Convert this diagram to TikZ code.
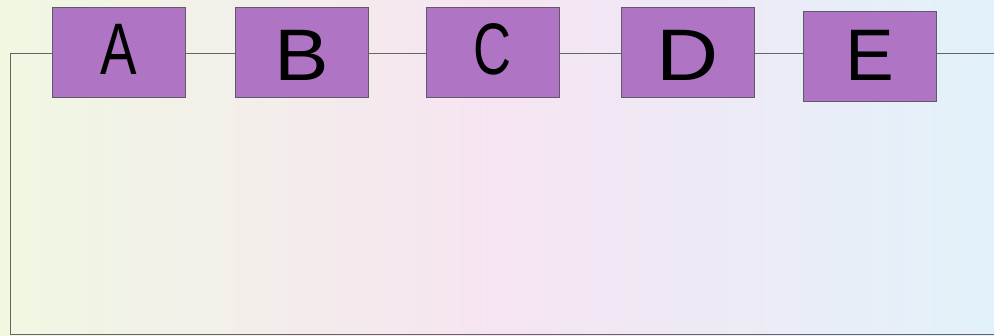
\documentclass[tikz,border=0pt]{standalone}
\usepackage{fontspec}
\setmainfont{Liberation Sans}
\definecolor{boxpurple}{RGB}{176,116,196}
\definecolor{edgegray}{RGB}{96,90,104}
\definecolor{wiregray}{RGB}{100,100,100}
\definecolor{bgleft}{RGB}{240,248,226}
\definecolor{bgmid}{RGB}{246,228,242}
\definecolor{bgright}{RGB}{226,242,250}
\newcommand{\letterat}[3]{\raisebox{#1}[52pt][0pt]{\scalebox{#2}[1]{#3}}}

\begin{document}
\begin{tikzpicture}[x=1pt,y=-1pt,
  blockbox/.style={draw=edgegray,line width=0.9pt,fill=boxpurple,minimum width=133pt,minimum height=90pt,inner sep=0pt,font=\fontsize{73}{73}\selectfont},
  wire/.style={draw=wiregray,line width=1pt}]
  \shade[left color=bgleft,right color=bgright,middle color=bgmid] (0,0) rectangle (994,336);
  \useasboundingbox (0,0) rectangle (994,336);
  \coordinate (axis) at (0,54);
  \node[blockbox] (a) at (118.5,52) {\letterat{3pt}{0.75}{A}};
  \node[blockbox] (b) at (302,52) {\letterat{-2.5pt}{1.12}{B}};
  \node[blockbox] (c) at (492.5,52) {\letterat{3pt}{0.72}{C}};
  \node[blockbox] (d) at (688,52) {\letterat{-2.5pt}{1.18}{D}};
  \node[blockbox] (e) at (870,56) {\letterat{1.5pt}{1}{E}};
  \coordinate (corner) at (10,54);
  \coordinate (bottomleft) at (10,335);
  \coordinate (bottomright) at (994,335);
  \coordinate (rightend) at (994,54);
  \draw[wire] (a.west |- axis) -- (corner) -- (bottomleft) -- (bottomright);
  \draw[wire] (a.east |- axis) -- (b.west |- axis);
  \draw[wire] (b.east |- axis) -- (c.west |- axis);
  \draw[wire] (c.east |- axis) -- (d.west |- axis);
  \draw[wire] (d.east |- axis) -- (e.west |- axis);
  \draw[wire] (e.east |- axis) -- (rightend);
\end{tikzpicture}
\end{document}
